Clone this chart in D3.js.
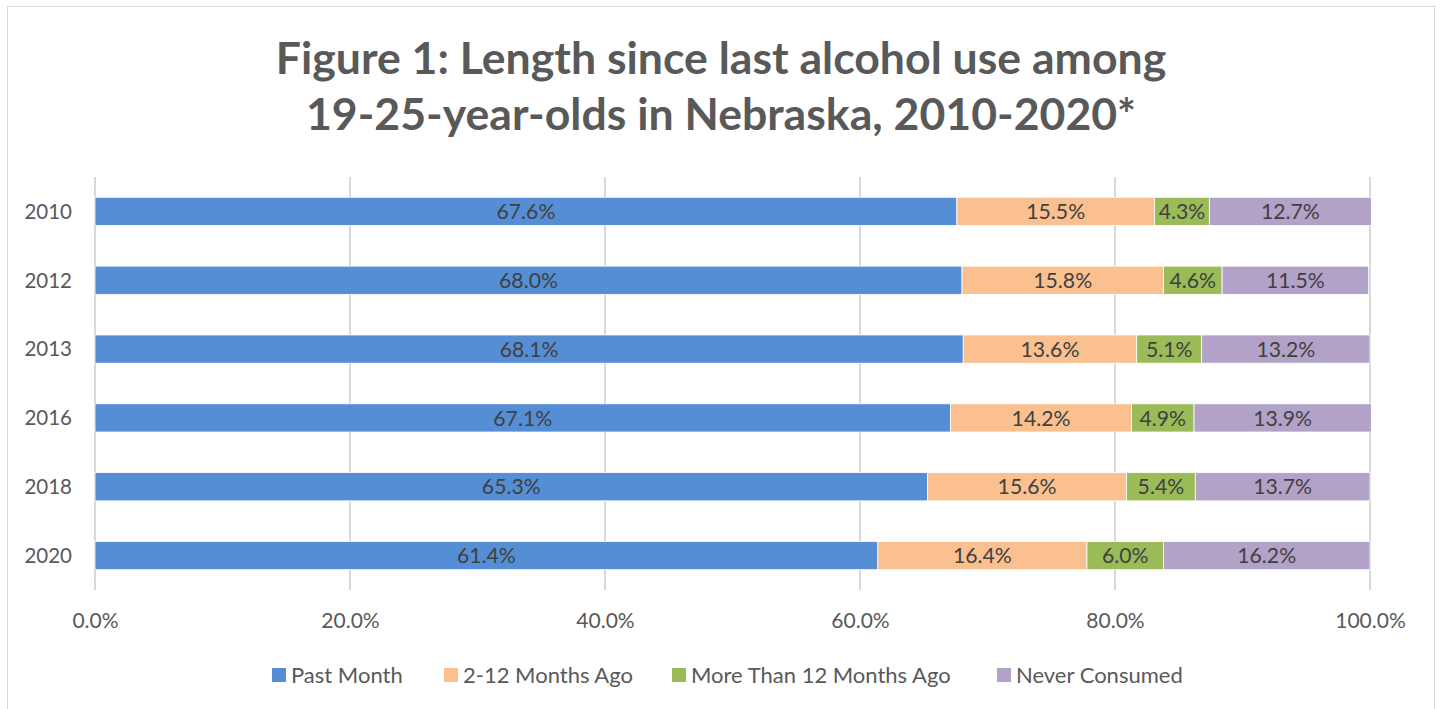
<!DOCTYPE html>
<html><head><meta charset="utf-8">
<script src="https://cdn.jsdelivr.net/npm/d3@7"></script>
<style>body{margin:0;background:#fff;} svg{display:block;font-family:Lato, "Open Sans", sans-serif;}</style>
</head><body>
<svg id="c" width="1440" height="709"></svg>
<script>
const years = ["2010","2012","2013","2016","2018","2020"];
const seriesNames = ["Past Month","2-12 Months Ago","More Than 12 Months Ago","Never Consumed"];
const pastMonth = [67.6,68.0,68.1,67.1,65.3,61.4];
const months2to12 = [15.5,15.8,13.6,14.2,15.6,16.4];
const moreThan12 = [4.3,4.6,5.1,4.9,5.4,6.0];
const neverConsumed = [12.7,11.5,13.2,13.9,13.7,16.2];
const xTicks = [0,20,40,60,80,100];
const colors = ["#558ED5","#FAC090","#9BBB59","#B3A2C7"];

const svg = d3.select("#c");
svg.append("rect").attr("x",7.5).attr("y",6.5).attr("width",1427).attr("height",720)
  .attr("fill","#fff").attr("stroke","#D9D9D9").attr("stroke-width",1);

const title = svg.append("text").attr("text-anchor","middle").attr("fill","#595959")
  .attr("font-weight","bold").attr("font-size",44.6);
title.append("tspan").attr("x",721).attr("y",74).text("Figure 1: Length since last alcohol use among");
title.append("tspan").attr("x",721).attr("y",130).text("19-25-year-olds in Nebraska, 2010-2020*");

const x = d3.scaleLinear().domain([0,100]).range([95,1370]);
const y = d3.scaleBand().domain(years).range([177,590]).paddingInner(0.59).paddingOuter(0.295);

const g = svg.append("g");
g.selectAll("line.grid").data(xTicks).join("line").attr("class","grid")
  .attr("x1",d=>x(d)).attr("x2",d=>x(d)).attr("y1",177).attr("y2",590)
  .attr("stroke","#D9D9D9").attr("stroke-width",2);

const stackData = years.map((yr,i)=>({year:yr, s0:pastMonth[i], s1:months2to12[i], s2:moreThan12[i], s3:neverConsumed[i]}));
const stack = d3.stack().keys(["s0","s1","s2","s3"])(stackData);

stack.forEach((layer,k)=>{
  const lg = g.append("g");
  lg.selectAll("rect").data(layer).join("rect")
    .attr("x",d=>x(d[0])).attr("width",d=>x(d[1])-x(d[0]))
    .attr("y",d=>y(d.data.year)).attr("height",y.bandwidth())
    .attr("fill",colors[k]).attr("stroke","#fff").attr("stroke-width",0.8);
  lg.selectAll("text").data(layer).join("text")
    .attr("x",d=>(x(d[0])+x(d[1]))/2).attr("y",d=>y(d.data.year)+y.bandwidth()/2)
    .attr("dy","0.36em").attr("text-anchor","middle").attr("fill","#404040").attr("font-size",21.2)
    .text(d=>(d[1]-d[0]).toFixed(1)+"%");
});

// y axis labels
g.selectAll("text.yl").data(years).join("text").attr("class","yl")
  .attr("x",72).attr("y",d=>y(d)+y.bandwidth()/2).attr("dy","0.36em")
  .attr("text-anchor","end").attr("fill","#595959").attr("font-size",20.5).text(d=>d);

// x axis
const xAxis = d3.axisBottom(x).tickValues(xTicks).tickSize(0).tickFormat(d=>d.toFixed(1)+"%");
const ax = svg.append("g").attr("transform","translate(0,610)").call(xAxis);
ax.select(".domain").remove();
ax.selectAll("text").attr("fill","#595959").attr("font-size",21).attr("font-family","Lato, 'Open Sans', sans-serif");

// legend
const legX = [272,444,672,997];
const leg = svg.append("g");
seriesNames.forEach((n,i)=>{
  leg.append("rect").attr("x",legX[i]).attr("y",668).attr("width",14).attr("height",14).attr("fill",colors[i]);
  leg.append("text").attr("x",legX[i]+19).attr("y",675).attr("dy","0.36em").attr("fill","#595959")
    .attr("font-size",22).text(n);
});
</script>
</body></html>
